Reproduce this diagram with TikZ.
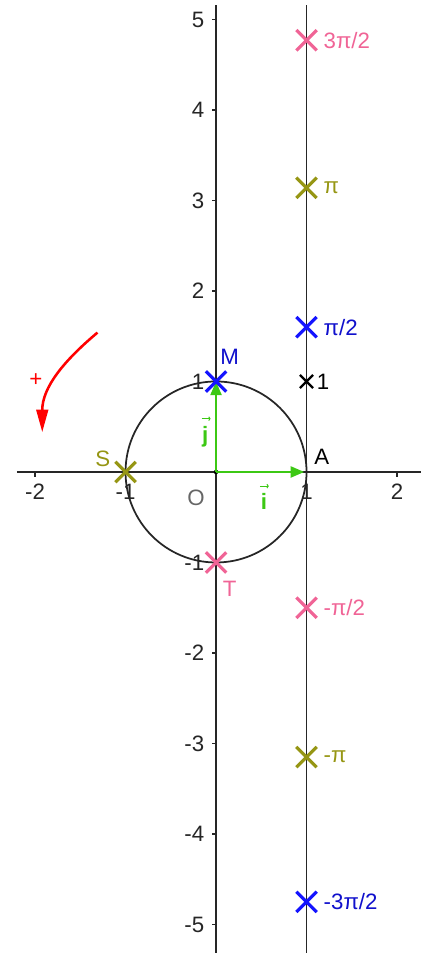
\documentclass[tikz,border=0pt]{standalone}
\usepackage{fontspec}
\setmainfont{Liberation Sans}
\usepackage{tikz}
\usetikzlibrary{positioning, arrows.meta, shapes.misc}
\newcommand{\lblsize}{\fontsize{7pt}{8pt}\selectfont}
\definecolor{ptblue}  {RGB}{20, 20, 255}
\definecolor{ptpink}  {RGB}{240, 100, 150}
\definecolor{ptolive} {RGB}{150, 150, 20}
\definecolor{vecgreen}{RGB}{60, 200, 20}
\tikzset{
  % Axis lines
  axis/.style={line width=0.55pt, color=black!85},
  % Point marker
  pt/.style={
    cross out, draw, minimum size=0.19cm, inner sep=0pt,
    line width=1pt
  },
  % Point label
  lbl/.style={font=\lblsize, inner sep=1pt},
  % Unit vector arrow
  vec/.style={-{Triangle[length=0.15cm, width=0.12cm]}, line width=0.75pt, color=vecgreen},
  % Arrow over a vector name
  accent/.style={-{Straight Barb[length=0.4pt, width=1.2pt]}, line width=0.3pt, color=vecgreen},
}
\begin{document}
\begin{tikzpicture}
  \useasboundingbox (-2.387,-5.315) rectangle (2.265,5.215);
  % axes and tick labels
  \foreach \x in {-2,-1,1,2}
    \draw[axis] (\x,0) -- (\x,-0.05) node[lbl, below=1pt] {\x};
  \foreach \y in {-5,...,-1,1,2,3,4,5}
    \draw[axis] (0,\y) -- (-0.05,\y) node[lbl, left=1pt] {\y};
  \draw[axis] (-2.2,0) -- (2.265,0);
  \draw[axis] (0,-5.315) -- (0,5.16);
  \draw[axis] (1,-5.315) -- (1,5.16);
  \draw[axis] (0,0) circle (1);
  \node[lbl, color=black!60] (o) at (-0.22,-0.29) {O};
  % unit vectors
  \fill (0,0) circle (0.025);
  \coordinate (org) at (0,0);
  \node[inner sep=0pt] (a) at (1,0) {};
  \draw[vec] (org) -- (a);
  \draw[vec] (org) -- (0,1);
  \node[lbl, color=vecgreen, font=\lblsize\bfseries] (vi) at (0.53,-0.33) {i};
  \node[lbl, color=vecgreen, font=\lblsize\bfseries] (vj) at (-0.12,0.39) {j};
  \draw[accent] ([xshift=-1.3pt, yshift=1.2pt]vi.north) -- ([xshift=1.5pt, yshift=1.2pt]vi.north);
  \draw[accent] ([xshift=-1.1pt, yshift=1.2pt]vj.north) -- ([xshift=1.7pt, yshift=1.2pt]vj.north);
  % points on the circle
  \node[pt, ptblue]  (m) at (0,1) {};
  \node[pt, ptolive] (s) at (-1,0) {};
  \node[pt, ptpink]  (t) at (0,-1) {};
  \node[lbl, color=ptblue!80!black] at (0.15,1.27) {M};
  \node[lbl, color=ptolive] at (-1.25,0.14) {S};
  \node[lbl, color=ptpink] at (0.15,-1.29) {T};
  \node[lbl] at (1.17,0.17) {A};
  % points on the tangent line
  \node[pt, black, minimum size=0.12cm, line width=0.7pt] (u) at (1,1) {};
  \node[lbl, right=0pt of u] {1};
  \node[pt, ptpink]  (p1) at (1,4.77) {};
  \node[pt, ptolive] (p2) at (1,3.14) {};
  \node[pt, ptblue]  (p3) at (1,1.6) {};
  \node[pt, ptpink]  (p4) at (1,-1.5) {};
  \node[pt, ptolive] (p5) at (1,-3.15) {};
  \node[pt, ptblue]  (p6) at (1,-4.75) {};
  \node[lbl, color=ptpink, right=1pt of p1] {3π/2};
  \node[lbl, color=ptolive, right=1pt of p2] {π};
  \node[lbl, color=ptblue!80!black, right=1pt of p3] {π/2};
  \node[lbl, color=ptpink, right=1pt of p4] {-π/2};
  \node[lbl, color=ptolive, right=1pt of p5] {-π};
  \node[lbl, color=ptblue!80!black, right=1pt of p6] {-3π/2};
  % orientation
  \coordinate (r1) at (-1.31,1.54);
  \coordinate (r2) at (-1.92,0.44);
  \draw[red, line width=0.8pt, -{Triangle[length=0.25cm, width=0.13cm]}] (r1) to[out=220, in=90] (r2);
  \node[lbl, red] at (-1.99,1.02) {+};
\end{tikzpicture}
\end{document}
